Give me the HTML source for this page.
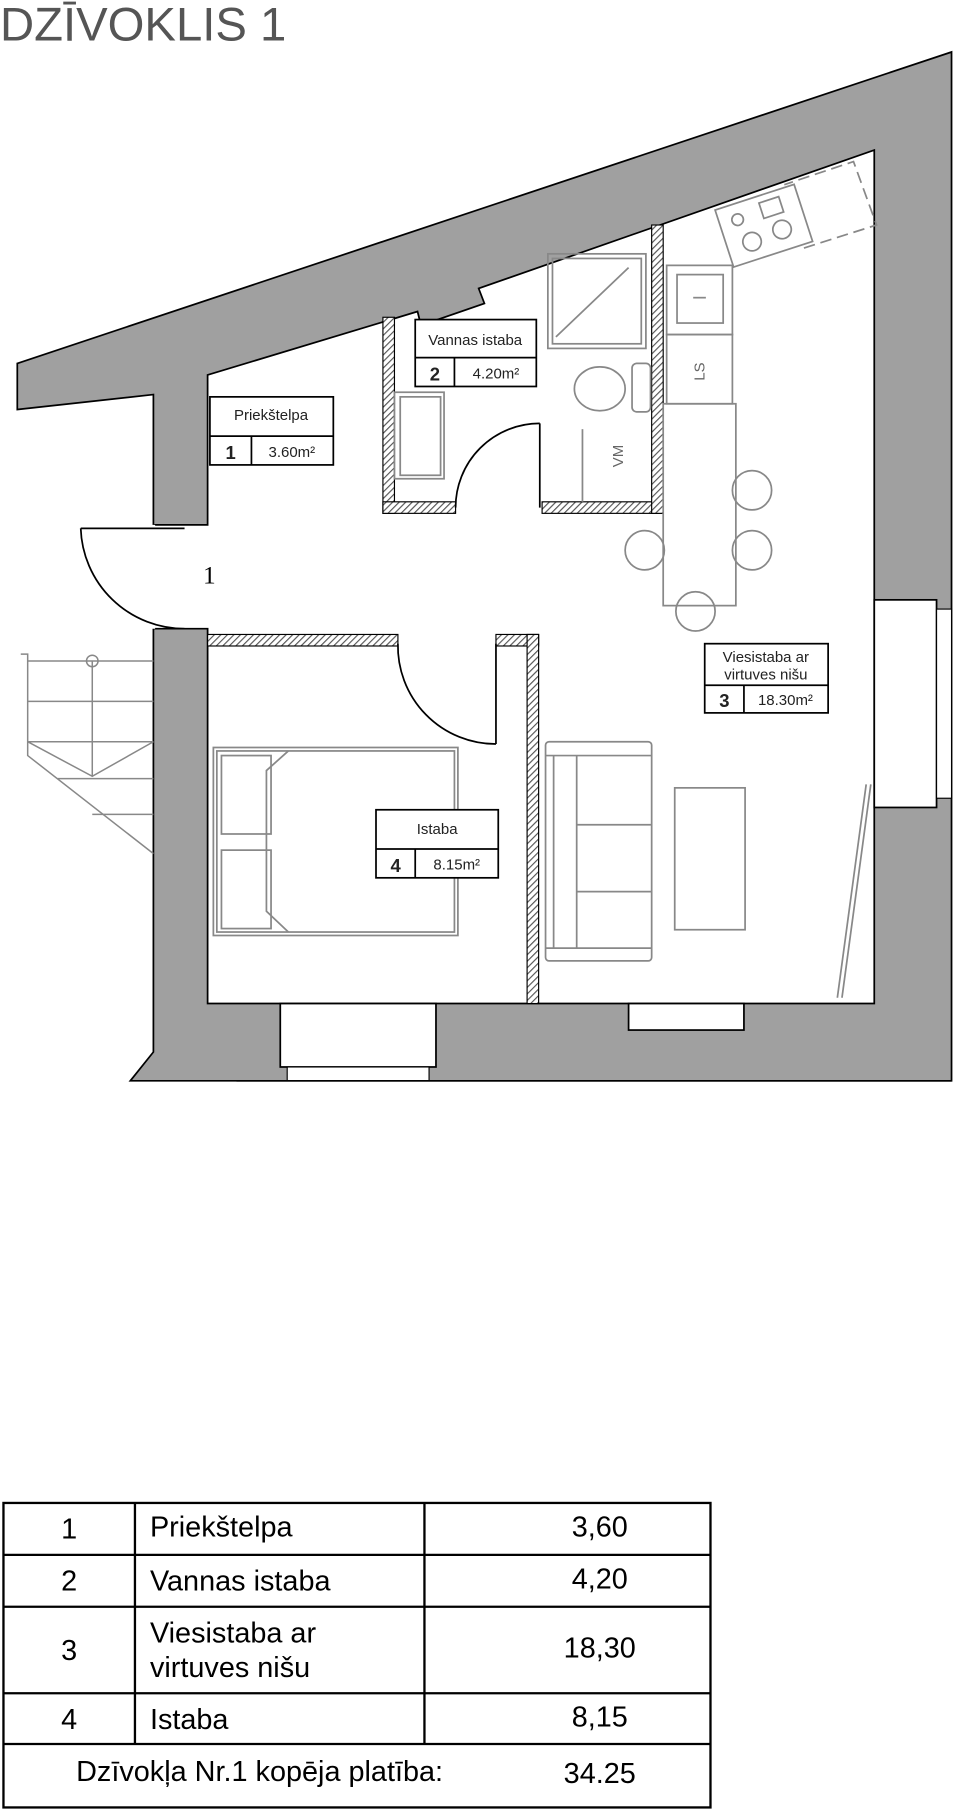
<!DOCTYPE html>
<html><head><meta charset="utf-8"><style>html,body{margin:0;padding:0;background:#fff}svg{display:block}</style></head><body>
<svg width="955" height="1811" viewBox="0 0 828 1570" xmlns="http://www.w3.org/2000/svg" font-family="Liberation Sans, sans-serif">
<defs>
<pattern id="h" width="4" height="4" patternUnits="userSpaceOnUse" patternTransform="rotate(45)"><rect width="4" height="4" fill="#fff"/><line x1="0" y1="0" x2="0" y2="4" stroke="#555" stroke-width="2"/></pattern>
</defs>
<text x="0" y="35" font-size="41" fill="#555">DZĪVOKLIS 1</text>
<polygon points="15,315 825,45 825,937 113,937 133,912 133,545 180,545 180,455 133,455 133,342 15,355" fill="#a0a0a0" stroke="#000" stroke-width="1.5"/>
<polygon points="180,325 362,270 365,282 420,263 415,250 758,130 758,870 180,870 180,545 133,545 133,455 180,455" fill="#fff" stroke="#000" stroke-width="1.5"/>
<line x1="133" y1="455" x2="133" y2="545" stroke="#fff" stroke-width="3"/>
<rect x="758" y="520" width="54" height="180" fill="#fff" stroke="#000" stroke-width="1.5"/>
<rect x="812" y="528" width="13" height="164" fill="#fff" stroke="#000" stroke-width="1"/>
<rect x="243" y="870" width="135" height="55" fill="#fff" stroke="#000" stroke-width="1.5"/>
<rect x="249" y="925" width="123" height="12" fill="#fff" stroke="#000" stroke-width="1"/>
<rect x="545" y="870" width="100" height="23" fill="#fff" stroke="#000" stroke-width="1.5"/>
<line x1="205" y1="937" x2="825" y2="937" stroke="#000" stroke-width="1.5"/>
<g fill="url(#h)" stroke="#000" stroke-width="1">
<rect x="332" y="275" width="10" height="170"/>
<rect x="332" y="435" width="63" height="10"/>
<rect x="470" y="435" width="105" height="10"/>
<rect x="565" y="195" width="10" height="250"/>
<rect x="180" y="550" width="165" height="10"/>
<rect x="430" y="550" width="37" height="10"/>
<rect x="457" y="550" width="10" height="320"/>
</g>
<g fill="none" stroke="#000" stroke-width="1.5">
<path d="M70,458 A90,90 0 0 0 160,545"/>
<line x1="70" y1="458" x2="160" y2="458"/>
<path d="M395,440 A73,73 0 0 1 468,367"/>
<line x1="468" y1="367" x2="468" y2="440"/>
<path d="M345,558 A85,85 0 0 0 430,645"/>
<line x1="430" y1="558" x2="430" y2="645"/>
</g>
<g stroke="#888" stroke-width="1.3" fill="none">
<polyline points="18,567 24,567 24,655 133,740"/>
<line x1="24" y1="573" x2="133" y2="573"/>
<line x1="24" y1="608" x2="133" y2="608"/>
<line x1="24" y1="643" x2="133" y2="643"/>
<line x1="80" y1="573" x2="80" y2="673"/>
<polyline points="24,643 80,673 133,643"/>
<line x1="50" y1="675" x2="133" y2="675"/>
<line x1="80" y1="706" x2="133" y2="706"/>
<circle cx="80" cy="573" r="5"/>
</g>
<g stroke="#888" stroke-width="1.5" fill="none">
<rect x="185" y="648" width="212" height="163"/>
<rect x="188" y="651" width="206" height="157"/>
<rect x="192" y="655" width="43" height="68"/>
<rect x="192" y="737" width="43" height="68"/>
<polyline points="250,651 231,668 231,790 250,808"/>
<rect x="473" y="643" width="92" height="190" rx="3"/>
<line x1="480" y1="655" x2="480" y2="822"/><line x1="500" y1="655" x2="500" y2="822"/>
<line x1="500" y1="715" x2="565" y2="715"/><line x1="500" y1="773" x2="565" y2="773"/>
<line x1="473" y1="655" x2="565" y2="655"/><line x1="473" y1="822" x2="565" y2="822"/>
<rect x="585" y="683" width="61" height="123"/>
<rect x="575" y="350" width="63" height="175"/>
<circle cx="652" cy="425" r="17"/><circle cx="652" cy="477" r="17"/>
<circle cx="559" cy="477" r="17"/><circle cx="603" cy="530" r="17"/>
<rect x="475" y="220" width="85" height="82"/><rect x="479" y="224" width="77" height="74"/>
<line x1="482" y1="292" x2="545" y2="232"/>
<ellipse cx="520" cy="337" rx="22" ry="19"/>
<rect x="548" y="315" width="16" height="42" rx="4"/>
<rect x="342" y="340" width="43" height="75"/><rect x="347" y="344" width="35" height="68"/>
<rect x="578" y="230" width="57" height="60"/><rect x="587" y="238" width="40" height="42"/>
<line x1="601" y1="258" x2="612" y2="258"/>
<rect x="578" y="290" width="57" height="60"/>
<line x1="505" y1="372" x2="505" y2="435"/>
<g transform="translate(620,182) rotate(-18)"><rect x="0" y="0" width="72" height="52"/><circle cx="22" cy="36" r="8"/><circle cx="50" cy="34" r="8"/><circle cx="16" cy="14" r="5"/><rect x="38" y="6" width="18" height="14"/></g>
<g stroke-dasharray="10,5"><polyline points="697,215 760,195 740,140 680,160"/></g>
<line x1="755" y1="680" x2="730" y2="865"/><line x1="751" y1="680" x2="726" y2="865"/>
</g>
<text x="540" y="405" font-size="13" fill="#666" transform="rotate(-90 540 405)">VM</text>
<text x="611" y="330" font-size="13" fill="#666" transform="rotate(-90 611 330)">LS</text>
<text x="176" y="506" font-size="22" fill="#000" font-family="Liberation Serif, serif">1</text>
<g stroke="#000" stroke-width="1.5" fill="#fff">
<rect x="182" y="344" width="107" height="59"/><line x1="182" y1="378" x2="289" y2="378"/><line x1="218" y1="378" x2="218" y2="403"/>
<rect x="360" y="277" width="105" height="58"/><line x1="360" y1="310" x2="465" y2="310"/><line x1="394" y1="310" x2="394" y2="335"/>
<rect x="611" y="558" width="107" height="60"/><line x1="611" y1="594" x2="718" y2="594"/><line x1="645" y1="594" x2="645" y2="618"/>
<rect x="326" y="702" width="106" height="59"/><line x1="326" y1="736" x2="432" y2="736"/><line x1="360" y1="736" x2="360" y2="761"/>
</g>
<g font-size="13" fill="#222" text-anchor="middle">
<text x="235" y="364">Priekštelpa</text><text x="200" y="398" font-weight="bold" font-size="16">1</text><text x="253" y="396">3.60m²</text>
<text x="412" y="299">Vannas istaba</text><text x="377" y="330" font-weight="bold" font-size="16">2</text><text x="430" y="328">4.20m²</text>
<text x="664" y="574">Viesistaba ar</text><text x="664" y="589">virtuves nišu</text><text x="628" y="613" font-weight="bold" font-size="16">3</text><text x="681" y="611">18.30m²</text>
<text x="379" y="723">Istaba</text><text x="343" y="756" font-weight="bold" font-size="16">4</text><text x="396" y="754">8.15m²</text>
</g>
<g stroke="#000" stroke-width="2" fill="none">
<rect x="3" y="1303" width="613" height="264"/>
<line x1="3" y1="1348" x2="616" y2="1348"/><line x1="3" y1="1393" x2="616" y2="1393"/>
<line x1="3" y1="1468" x2="616" y2="1468"/><line x1="3" y1="1512" x2="616" y2="1512"/>
<line x1="117" y1="1303" x2="117" y2="1512"/><line x1="368" y1="1303" x2="368" y2="1512"/>
</g>
<g font-size="25" fill="#000">
<text x="60" y="1334" text-anchor="middle">1</text><text x="130" y="1332">Priekštelpa</text><text x="520" y="1332" text-anchor="middle">3,60</text>
<text x="60" y="1379" text-anchor="middle">2</text><text x="130" y="1379">Vannas istaba</text><text x="520" y="1377" text-anchor="middle">4,20</text>
<text x="60" y="1439" text-anchor="middle">3</text><text x="130" y="1424">Viesistaba ar</text><text x="130" y="1454">virtuves nišu</text><text x="520" y="1437" text-anchor="middle">18,30</text>
<text x="60" y="1499" text-anchor="middle">4</text><text x="130" y="1499">Istaba</text><text x="520" y="1497" text-anchor="middle">8,15</text>
<text x="66" y="1544">Dzīvokļa Nr.1 kopēja platība:</text><text x="520" y="1546" text-anchor="middle">34.25</text>
</g>
</svg>
</body></html>
